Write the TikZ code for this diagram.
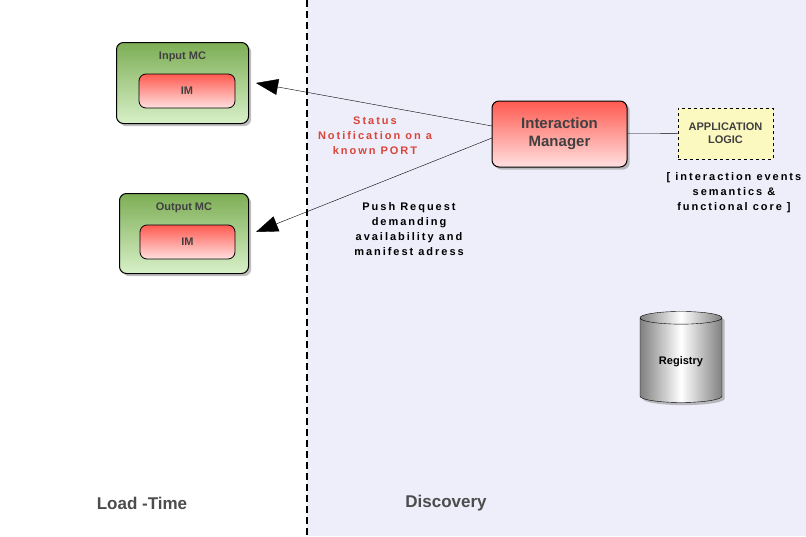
\documentclass[tikz,border=0pt]{standalone}
\usepackage{fontspec}
\setmainfont{Liberation Sans}
\usetikzlibrary{positioning, shapes.geometric, arrows.meta, shadows}
\definecolor{lav}{HTML}{EDEEFA}
\definecolor{mcgreen}{HTML}{7DAE55}
\definecolor{mclight}{HTML}{D8F0C8}
\definecolor{imred}{HTML}{FF5A50}
\definecolor{imlight}{HTML}{FFE0E0}
\definecolor{applogic}{HTML}{FBF8C0}
\definecolor{txtred}{HTML}{D9453A}
\newcommand{\spaced}{\addfontfeature{LetterSpace=18}}
\begin{document}
\begin{tikzpicture}[x=1pt, y=-1pt,
    mc/.style = {rectangle, rounded corners=7pt, draw, line width=1pt, top color=mcgreen, bottom color=mclight, drop shadow, anchor=north west},
    im/.style = {rectangle, rounded corners=7pt, draw, line width=0.8pt, top color=imred, bottom color=imlight, font=\bfseries\fontsize{11}{13}\selectfont, text=black!75},
    logic/.style = {rectangle, draw, dashed, line width=0.8pt, fill=applogic, font=\bfseries\fontsize{11}{13}\selectfont, text=black!75, align=center},
    note/.style = {font=\bfseries\fontsize{11}{15}\selectfont\spaced, align=center},
    Arrow/.style = {-{Triangle[length=22pt, width=16pt]}},
  ]
  % panes
  \fill[white] (0,0) rectangle (307,536);
  \fill[lav] (307,0) rectangle (806,536);
  \useasboundingbox (0,0) rectangle (806,536);
  \coordinate (top) at (307,0);
  \coordinate (bottom) at (307,536);
  \draw[line width=1.8pt, dash pattern=on 7pt off 4pt] (top) -- (bottom);

  % media containers
  \node[mc, minimum width=132pt, minimum height=81pt] (input) at (116,42) {};
  \node[anchor=north, font=\bfseries\fontsize{11}{13}\selectfont, text=black!75] at ([yshift=-6pt]input.north) {Input MC};
  \node[im, minimum width=96pt, minimum height=34pt] (inIM) at (187,91) {IM};
  \node[mc, minimum width=129pt, minimum height=80pt] (output) at (119,193) {};
  \node[anchor=north, font=\bfseries\fontsize{11}{13}\selectfont, text=black!75] at ([yshift=-6pt]output.north) {Output MC};
  \node[im, minimum width=95pt, minimum height=34pt] (outIM) at (187.5,242) {IM};

  % interaction manager and logic
  \node[im, line width=1pt, drop shadow, minimum width=135pt, minimum height=66pt, align=center, font=\bfseries\fontsize{15}{18}\selectfont] (manager) at (559.5,134) {Interaction\\Manager};
  \node[logic, minimum width=95pt, minimum height=51pt] (logic) at (725.5,133.5) {APPLICATION\\LOGIC};
  \draw (manager) -- (logic);
  \node[note] (core) at (734,193) {[ interaction events\\semantics \&\\functional core ]};

  % registry
  \node[cylinder, shape border rotate=90, aspect=0.25, draw, minimum width=82pt, minimum height=91pt,
        left color=black!50, right color=black!50, middle color=white, drop shadow, font=\bfseries\fontsize{11}{13}\selectfont] (registry) at (681,361.5) {Registry};

  % messages
  \coordinate (mgrA) at (492,126);
  \coordinate (mgrB) at (492,138);
  \coordinate (inEnd) at (256,83);
  \coordinate (outEnd) at (256,232);
  \draw[Arrow] (mgrA) -- (inEnd);
  \draw[Arrow] (mgrB) -- (outEnd);
  \node[note, text=txtred] (status) at (375,136) {Status\\Notification on a\\known PORT};
  \node[note] (push) at (409,229) {Push Request\\demanding\\availability and\\manifest adress};

  % phases
  \node[font=\bfseries\fontsize{17}{20}\selectfont, text=black!70] (load) at (142,503) {Load -Time};
  \node[font=\bfseries\fontsize{17}{20}\selectfont, text=black!70] (disc) at (446,503) {Discovery};
\end{tikzpicture}
\end{document}
